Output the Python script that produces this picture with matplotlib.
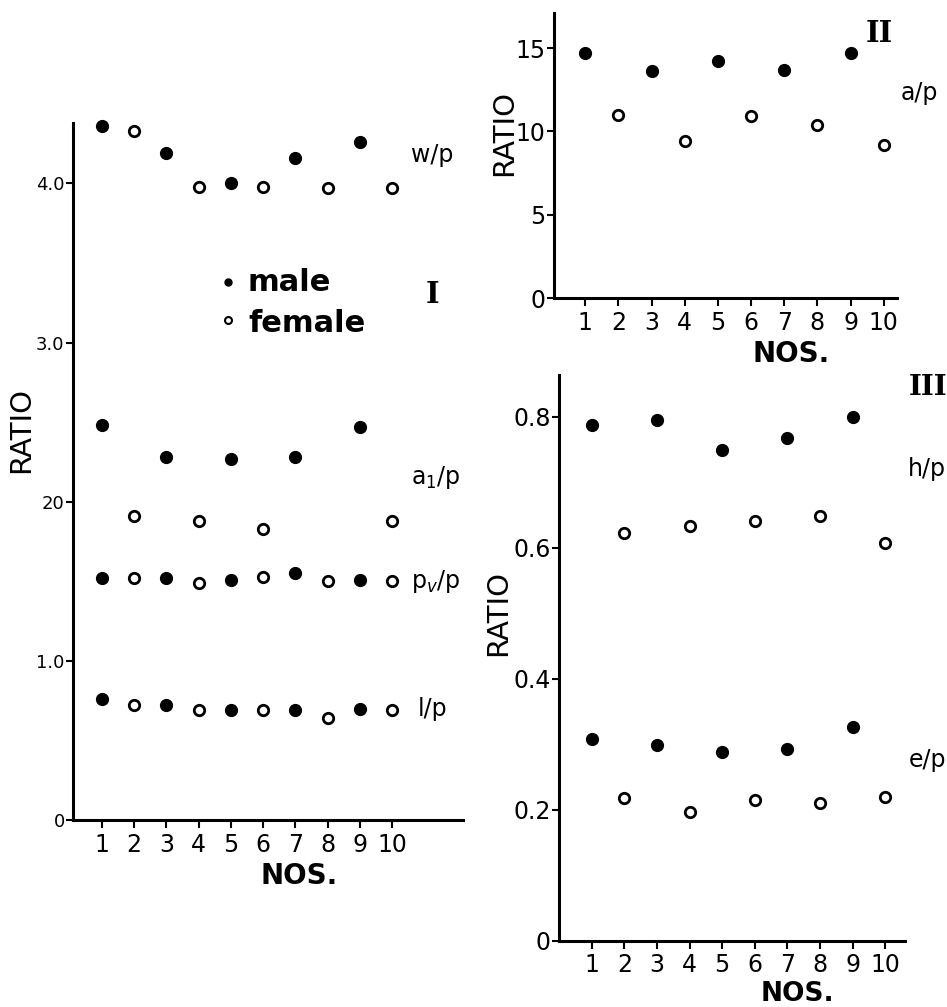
import numpy as np
import matplotlib
matplotlib.use('Agg')
import matplotlib.pyplot as plt

nos = np.arange(1, 11)
male_nos = [1, 3, 5, 7, 9]
female_nos = [2, 4, 6, 8, 10]

# panel I
wp_male = [4.36, 4.19, 4.00, 4.16, 4.26]
wp_female = [4.33, 3.98, 3.98, 3.97, 3.97]
a1p_male = [2.48, 2.28, 2.27, 2.28, 2.47]
a1p_female_nos = [2, 4, 6, 10]
a1p_female = [1.91, 1.88, 1.83, 1.88]
psp_male = [1.52, 1.52, 1.51, 1.55, 1.51]
psp_female = [1.52, 1.49, 1.53, 1.50, 1.50]
lp_male = [0.76, 0.72, 0.69, 0.69, 0.70]
lp_female = [0.72, 0.69, 0.69, 0.64, 0.69]

# panel II
ap_male = [14.7, 13.6, 14.2, 13.7, 14.7]
ap_female = [11.0, 9.4, 10.9, 10.4, 9.2]

# panel III
hp_male = [0.788, 0.795, 0.750, 0.768, 0.800]
hp_female = [0.623, 0.634, 0.641, 0.649, 0.608]
ep_male = [0.308, 0.299, 0.289, 0.293, 0.327]
ep_female = [0.218, 0.197, 0.215, 0.211, 0.220]

W, H = 947, 1007
fig = plt.figure(figsize=(W / 100, H / 100), dpi=100)
fig.patch.set_facecolor('white')


def px_axes(x0, x1, ytop, ybot):
    return fig.add_axes([x0 / W, 1 - ybot / H, (x1 - x0) / W, (ybot - ytop) / H])


def style(ax, ylab=13):
    for s in ['top', 'right']:
        ax.spines[s].set_visible(False)
    for s in ['left', 'bottom']:
        ax.spines[s].set_linewidth(2.2)
    ax.tick_params(axis='y', direction='out', length=5, width=1.5, labelsize=ylab, pad=1)
    ax.tick_params(axis='x', direction='out', length=6, width=1.5, labelsize=17, pad=3)
    ax.set_xticks(nos)


def male(ax, x, y):
    ax.plot(x, y, 'o', color='black', ms=8.5, ls='none', clip_on=False)


def female(ax, x, y):
    ax.plot(x, y, 'o', mfc='white', mec='black', mew=2, ms=7.5, ls='none', clip_on=False)


# ---- panel I ----
ax1 = px_axes(73, 463, 123, 820)
style(ax1)
ax1.set_xlim(0.1, 12.2)
ax1.set_ylim(0, 4.38)
ax1.set_yticks([0, 1, 2, 3, 4])
ax1.set_yticklabels(['0', '1.0', '20', '3.0', '4.0'])
male(ax1, male_nos, wp_male)
female(ax1, female_nos, wp_female)
male(ax1, male_nos, a1p_male)
female(ax1, a1p_female_nos, a1p_female)
male(ax1, male_nos, psp_male)
female(ax1, female_nos, psp_female)
male(ax1, male_nos, lp_male)
female(ax1, female_nos, lp_female)
lab = dict(fontsize=17, va='center', ha='left')
ax1.text(10.6, 4.18, 'w/p', **lab)
ax1.text(10.6, 2.15, 'a$_1$/p', **lab)
ax1.text(10.6, 1.50, 'p$_v$/p', **lab)
ax1.text(10.8, 0.70, 'l/p', **lab)
ax1.set_xlabel('NOS.', fontsize=20, fontweight='bold')
ax1.xaxis.set_label_coords(0.58, -0.060)
ax1.set_ylabel('RATIO', fontsize=21)
ax1.yaxis.set_label_coords(-0.097, 0.56)
# legend drawn as text with markers
ax1.plot([4.9], [3.38], 'o', color='black', ms=5, clip_on=False)
ax1.plot([4.9], [3.14], 'o', mfc='white', mec='black', mew=1.5, ms=5, clip_on=False)
ax1.text(5.5, 3.38, 'male', fontsize=22, fontweight='bold', va='center')
ax1.text(5.55, 3.12, 'female', fontsize=22, fontweight='bold', va='center')
ax1.text(11.25, 3.30, 'I', fontsize=21, fontweight='bold', family='DejaVu Serif',
         va='center', ha='center')

# ---- panel II ----
ax2 = px_axes(554, 897, 13, 298)
style(ax2, ylab=17)
ax2.set_xlim(0.06, 10.4)
ax2.set_ylim(0, 17.1)
ax2.set_yticks([0, 5, 10, 15])
male(ax2, male_nos, ap_male)
female(ax2, female_nos, ap_female)
ax2.text(10.5, 12.3, 'a/p', fontsize=17, va='center', ha='left')
ax2.text(9.85, 15.9, 'II', fontsize=21, fontweight='bold', family='DejaVu Serif',
         va='center', ha='center')
ax2.set_xlabel('NOS.', fontsize=20, fontweight='bold')
ax2.xaxis.set_label_coords(0.69, -0.147)
ax2.set_ylabel('RATIO', fontsize=21)
ax2.yaxis.set_label_coords(-0.105, 0.58)

# ---- panel III ----
ax3 = px_axes(559, 905, 375, 941)
style(ax3, ylab=17)
ax3.set_xlim(0.0, 10.6)
ax3.set_ylim(0, 0.864)
ax3.set_yticks([0, 0.2, 0.4, 0.6, 0.8])
ax3.set_yticklabels(['0', '0.2', '0.4', '0.6', '0.8'])
male(ax3, male_nos, hp_male)
female(ax3, female_nos, hp_female)
male(ax3, male_nos, ep_male)
female(ax3, female_nos, ep_female)
ax3.text(10.7, 0.72, 'h/p', fontsize=17, va='center', ha='left')
ax3.text(10.7, 0.277, 'e/p', fontsize=17, va='center', ha='left')
ax3.text(11.3, 0.845, 'III', fontsize=20, fontweight='bold', family='DejaVu Serif',
         va='center', ha='center')
ax3.set_xlabel('NOS.', fontsize=19, fontweight='bold')
ax3.xaxis.set_label_coords(0.69, -0.071)
ax3.set_ylabel('RATIO', fontsize=21)
ax3.yaxis.set_label_coords(-0.136, 0.58)

fig.savefig('out.png', dpi=100)
